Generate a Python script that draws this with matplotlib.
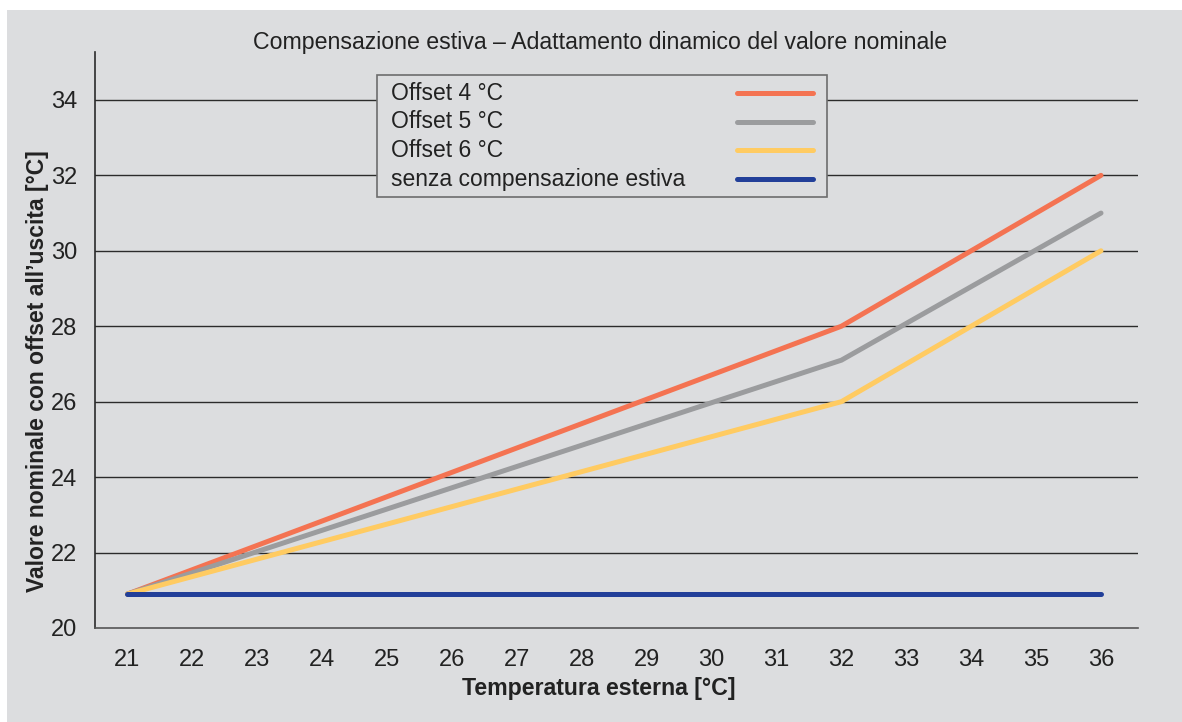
import matplotlib
matplotlib.use("Agg")
import matplotlib.pyplot as plt
from matplotlib.patches import Rectangle
from matplotlib.lines import Line2D

# temperatura esterna e valori nominali
temp_esterna = [21, 32, 36]
offset_4 = [20.9, 28.0, 32.0]
offset_5 = [20.9, 27.1, 31.0]
offset_6 = [20.9, 26.0, 30.0]
senza_comp = [20.9, 20.9, 20.9]

serie = [
    ("Offset 4 °C", offset_4, "#f47352"),
    ("Offset 5 °C", offset_5, "#9b9c9e"),
    ("Offset 6 °C", offset_6, "#ffcb62"),
    ("senza compensazione estiva", senza_comp, "#223f99"),
]

x_ticks = list(range(21, 37))
y_ticks = list(range(20, 35, 2))

bg = "#dcdddf"
txt = "#222222"
W, H = 1182, 722
plt.rcParams["font.family"] = ["Liberation Sans", "DejaVu Sans"]

fig = plt.figure(figsize=(W / 100, H / 100), dpi=100)
fig.patch.set_facecolor("white")
fig.patches.append(Rectangle((7 / W, 0), 1, 1 - 10 / H, transform=fig.transFigure,
                             facecolor=bg, edgecolor="none", zorder=-10))

ax = fig.add_axes([95 / W, 94 / H, 1043 / W, 576 / H])
ax.set_facecolor(bg)
ax.set_xlim(20.5, 36.57)
ax.set_ylim(20, 35.27)

for y in y_ticks[1:]:
    ax.axhline(y, color="#2b2b2b", lw=1.0, zorder=1)

for label, vals, col in serie:
    ax.plot(temp_esterna, vals, color=col, lw=3.6, solid_capstyle="round",
            solid_joinstyle="miter", label=label, zorder=3)

ax.set_xticks(x_ticks)
ax.set_yticks(y_ticks)
ax.tick_params(axis="both", length=0, labelsize=17, colors=txt)
ax.tick_params(axis="x", pad=15)
ax.tick_params(axis="y", pad=13)

for s in ["top", "right"]:
    ax.spines[s].set_visible(False)
ax.spines["left"].set_color("#2b2b2b")
ax.spines["left"].set_linewidth(1.2)
ax.spines["bottom"].set_color("#555555")
ax.spines["bottom"].set_linewidth(1.2)

fig.text(600 / W, 1 - 42 / H, "Compensazione estiva – Adattamento dinamico del valore nominale",
         ha="center", va="center", fontsize=16.7, color=txt)
fig.text(599 / W, 1 - 689 / H, "Temperatura esterna [°C]",
         ha="center", va="center", fontsize=16.7, fontweight="bold", color=txt)
fig.text(38 / W, 1 - 371 / H, "Valore nominale con offset all’uscita [°C]",
         ha="center", va="center", rotation=90, fontsize=16.5, fontweight="bold", color=txt)

# legenda: testo a sinistra, campione della linea a destra
box = Rectangle((377 / W, 1 - 197 / H), 450 / W, 122 / H, transform=fig.transFigure,
                facecolor=bg, edgecolor="#6d6d6d", lw=1.2, zorder=5)
fig.patches.append(box)
for i, (label, vals, col) in enumerate(serie):
    yy = 1 - (93 + i * 28.7) / H
    fig.text(391 / W, yy, label, ha="left", va="center", fontsize=16.5, color=txt, zorder=6)
    fig.lines.append(Line2D([737 / W, 813 / W], [yy, yy], transform=fig.transFigure,
                            color=col, lw=3.6, solid_capstyle="round", zorder=6))

fig.savefig("out.png", dpi=100, facecolor=fig.get_facecolor())
